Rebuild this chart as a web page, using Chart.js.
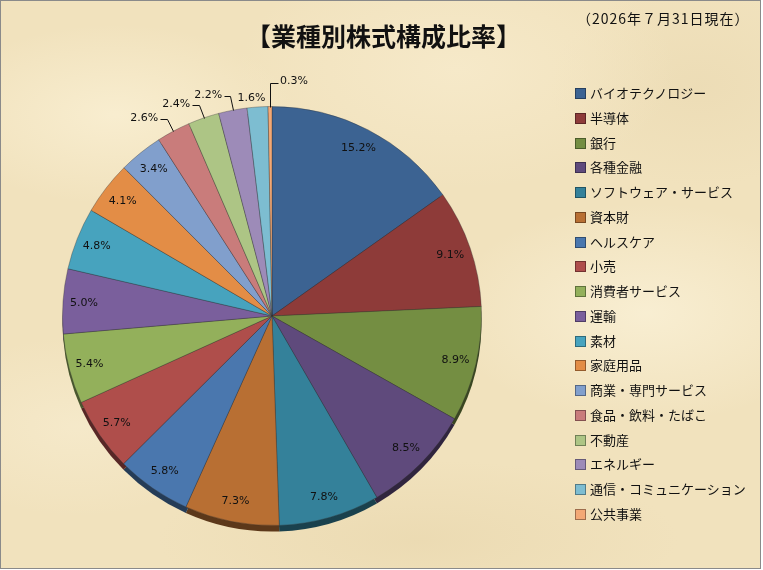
<!DOCTYPE html>
<html lang="ja">
<head>
<meta charset="utf-8">
<script src="https://cdn.jsdelivr.net/npm/chart.js@4.4.1/dist/chart.umd.min.js"></script>
<style>
html, body { margin: 0; padding: 0; background: #fff; }
#frame {
    position: absolute; left: 0; top: 0;
    width: 759px; height: 567px;
    border: 1px solid #8a8a8a;
    background-color: #f1e2bd;
    background-image:
        radial-gradient(ellipse 180px 90px at 15% 20%, rgba(250,240,212,.8), transparent),
        radial-gradient(ellipse 220px 120px at 60% 12%, rgba(248,236,206,.7), transparent),
        radial-gradient(ellipse 200px 110px at 85% 55%, rgba(250,241,215,.8), transparent),
        radial-gradient(ellipse 160px 90px at 10% 75%, rgba(247,236,207,.7), transparent),
        radial-gradient(ellipse 260px 80px at 55% 95%, rgba(232,214,172,.6), transparent),
        radial-gradient(ellipse 150px 100px at 92% 15%, rgba(232,215,175,.5), transparent),
        radial-gradient(ellipse 140px 70px at 30% 50%, rgba(230,212,170,.5), transparent);
}
#c { position: absolute; left: 0; top: 0; }
#title {
    position: absolute; left: 0; top: 17px; width: 763px;
    text-align: center; font: bold 25px "Noto Sans CJK JP", sans-serif; color: #111;
}
#title span { position: relative; left: 2px; }
#sub {
    position: absolute; left: 577px; top: 8px; letter-spacing: 1px;
    font: 14px "Noto Sans CJK JP", sans-serif; color: #111;
}
#legend { position: absolute; left: 575px; top: 83px; margin: 0; padding: 0; list-style: none; }
#legend li {
    height: 24.76px; line-height: 24.76px;
    font: 13px "Noto Sans CJK JP", sans-serif; color: #111;
    white-space: nowrap;
}
#legend i {
    display: inline-block; width: 9px; height: 9px; margin-right: 4px;
    border: 1px solid rgba(0,0,0,.35); vertical-align: -1px;
}
</style>
</head>
<body>
<div id="frame"></div>
<canvas id="c" width="763" height="570"></canvas>
<div id="title"><span>【業種別株式構成比率】</span></div>
<div id="sub">（2026年７月31日現在）</div>
<ul id="legend"></ul>
<script>
const sectors = ["バイオテクノロジー", "半導体", "銀行", "各種金融", "ソフトウェア・サービス", "資本財",
    "ヘルスケア", "小売", "消費者サービス", "運輸", "素材", "家庭用品", "商業・専門サービス",
    "食品・飲料・たばこ", "不動産", "エネルギー", "通信・コミュニケーション", "公共事業"];
const weights = [15.2, 9.1, 8.9, 8.5, 7.8, 7.3, 5.8, 5.7, 5.4, 5.0, 4.8, 4.1, 3.4, 2.6, 2.4, 2.2, 1.6, 0.3];
const colors = ["#3c6392", "#8e3b39", "#748e42", "#5f4a7c", "#34819a", "#b86f33",
    "#4a77ae", "#af4e4b", "#93b05b", "#7a5f9c", "#47a3be", "#e38d46",
    "#819fcc", "#c97c7b", "#adc585", "#9d8bb8", "#7dbdd1", "#f3a875"];

// slices below this share get their label outside the pie
const OUTSIDE_BELOW = 3;

const legend = document.getElementById("legend");
sectors.forEach(function(name, i) {
    const li = document.createElement("li");
    li.innerHTML = '<i style="background:' + colors[i] + '"></i>' + name;
    legend.appendChild(li);
});

function shade(hex, f) {
    const n = parseInt(hex.slice(1), 16);
    const r = Math.round(((n >> 16) & 255) * f);
    const g = Math.round(((n >> 8) & 255) * f);
    const b = Math.round((n & 255) * f);
    return "rgb(" + r + "," + g + "," + b + ")";
}

// darker copy of each slice a few px lower, gives the thin 3D rim
const rim = {
    id: "rim",
    beforeDatasetsDraw(chart) {
        const ctx = chart.ctx;
        chart.getDatasetMeta(0).data.forEach(function(arc, i) {
            ctx.save();
            ctx.translate(0, 6);
            ctx.beginPath();
            ctx.moveTo(arc.x, arc.y);
            ctx.arc(arc.x, arc.y, arc.outerRadius, arc.startAngle, arc.endAngle);
            ctx.closePath();
            ctx.fillStyle = shade(colors[i], 0.5);
            ctx.fill();
            ctx.restore();
        });
    }
};

function px(v) { return Math.round(v) + .5; }

const pctLabels = {
    id: "pctLabels",
    afterDatasetsDraw(chart) {
        const ctx = chart.ctx;
        ctx.save();
        ctx.font = "11px 'DejaVu Sans', sans-serif";
        ctx.fillStyle = "#111";
        ctx.strokeStyle = "#111";
        ctx.lineWidth = 1;
        ctx.textBaseline = "middle";
        let leftEdge = Infinity;
        const arcs = chart.getDatasetMeta(0).data;
        // outside labels are placed from the last slice backwards so they can dodge each other
        for (let i = arcs.length - 1; i >= 0; i--) {
            const arc = arcs[i];
            const mid = (arc.startAngle + arc.endAngle) / 2;
            const cx = Math.cos(mid), cy = Math.sin(mid);
            const r = arc.outerRadius;
            const txt = weights[i].toFixed(1) + "%";
            if (weights[i] >= OUTSIDE_BELOW) {
                ctx.textAlign = "center";
                ctx.fillText(txt, arc.x + cx * r * 0.9, arc.y + cy * r * 0.9);
                continue;
            }
            const w = ctx.measureText(txt).width;
            const ex = arc.x + cx * r, ey = arc.y + cy * r;
            if (cx >= -0.05) {
                // right of the top: leader goes up, then right
                const by = ey - 24;
                ctx.beginPath();
                ctx.moveTo(px(ex), px(ey));
                ctx.lineTo(px(ex), px(by));
                ctx.lineTo(px(ex + 8), px(by));
                ctx.stroke();
                ctx.textAlign = "left";
                ctx.fillText(txt, ex + 10, by - 1);
                continue;
            }
            if (cx > -0.1) {
                // nearly at the top: text sits just above the slice
                const tx = ex - 6;
                ctx.textAlign = "center";
                ctx.fillText(txt, tx, ey - 9);
                leftEdge = tx - w / 2;
                continue;
            }
            const bx = ex + cx * 14, by = ey + cy * 14;
            let hx = bx - 6;
            if (hx - 2 > leftEdge - 4) hx = leftEdge - 2;
            ctx.beginPath();
            ctx.moveTo(px(ex), px(ey));
            ctx.lineTo(px(bx), px(by));
            ctx.lineTo(px(hx), px(by));
            ctx.stroke();
            ctx.textAlign = "right";
            ctx.fillText(txt, hx - 2, by - 1);
            leftEdge = hx - 2 - w;
        }
        ctx.restore();
    }
};

new Chart("c", {
    type: "pie",
    data: {
        labels: sectors,
        datasets: [{
            data: weights,
            backgroundColor: colors,
            borderColor: "rgba(50,50,50,0.35)",
            borderWidth: 1
        }]
    },
    options: {
        responsive: false,
        animation: false,
        layout: { padding: { left: 62, top: 106, right: 281, bottom: 44 } },
        plugins: {
            legend: { display: false },
            tooltip: { enabled: false }
        }
    },
    plugins: [rim, pctLabels]
});
</script>
</body>
</html>
